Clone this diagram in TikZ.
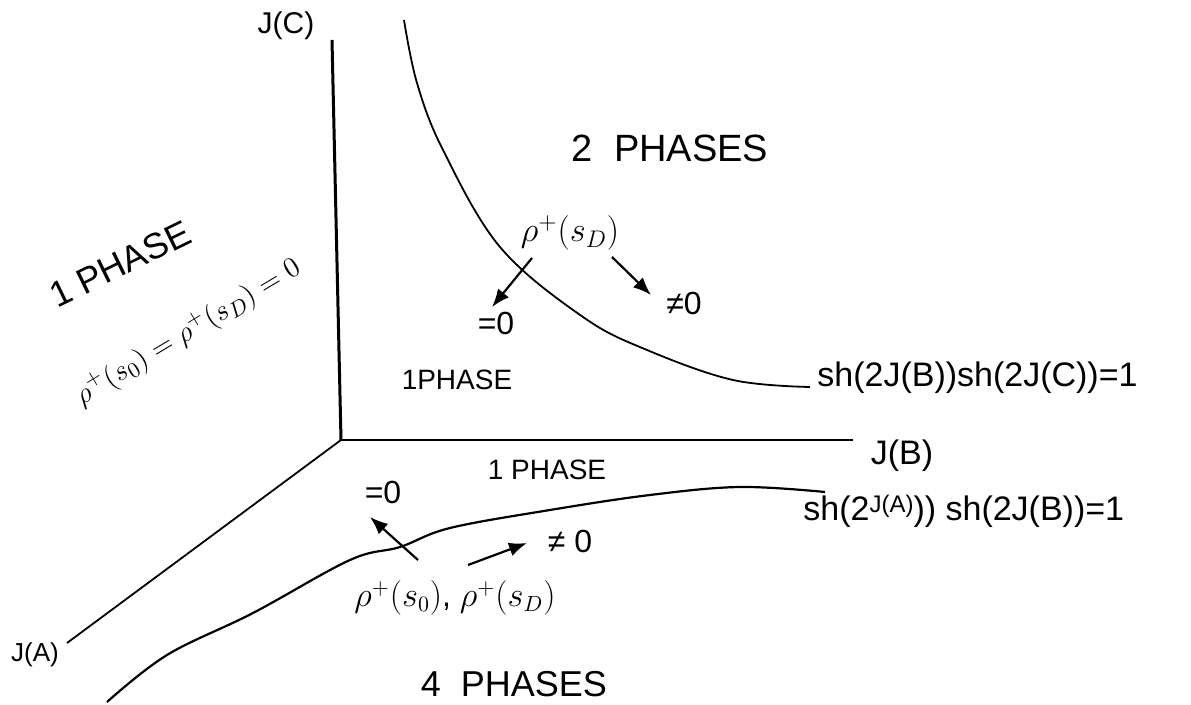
\documentclass[tikz,border=0pt]{standalone}
\usepackage{fontspec}
\setmainfont{Liberation Sans}
\usetikzlibrary{arrows.meta}
\newcommand{\fs}[1]{\fontsize{#1}{#1}\selectfont}
\begin{document}
\begin{tikzpicture}[x=0.5pt,y=-0.5pt,
  lbl/.style={inner sep=0pt},
  axis/.style={line width=1.3pt},
  bound/.style={line width=0.9pt},
  flow/.style={line width=1.1pt,-{Latex[length=9pt,width=7pt]}}]
\useasboundingbox (0,0) rectangle (1191,705);
% axes
\coordinate (O) at (341,440);
\coordinate (Ctop) at (332,40);
\coordinate (Bend) at (853,440);
\coordinate (Aend) at (67,643);
\draw[axis,line width=1.5pt] (O) -- (Ctop);
\draw[axis] (O) -- (Bend);
\draw[bound] (O) -- (Aend);
\node[lbl] (JC) at (286,26) {\fs{15}J(C)};
\node[lbl] (JB) at (902,456) {\fs{17}J(B)};
\node[lbl] (JA) at (35,655) {\fs{13}J(A)};
% boundaries
\draw[bound] plot[smooth,tension=0.6] coordinates {(404,20) (417,83) (443,150) (500,247) (583,317) (647,350) (733,380) (810,387)};
\draw[bound,line width=1.1pt] plot[smooth,tension=0.6] coordinates {(107,702) (167,655) (253,613) (350,560) (400,547) (450,528) (550,510) (650,495) (740,487) (825,492)};
\node[lbl,anchor=west] (eqBC) at (817,378) {\fs{17}sh(2J(B))sh(2J(C))=1};
\node[lbl,anchor=west] (eqAB) at (803,511) {\fs{17}sh(2\raisebox{0.45ex}{\fs{12}J(A)})) sh(2J(B))=1};
% region labels
\node[lbl] (two) at (670,148) {\fs{19}2 \ PHASES};
\node[lbl,rotate=26] (oneL) at (120,264) {\fs{18}1 PHASE};
\node[lbl,rotate=31] (rhoL) at (188,332) {\fs{15}$\rho^{+}(s_0)=\rho^{+}(s_D)=0$};
\node[lbl] (oneM) at (457,380) {\fs{14}1PHASE};
\node[lbl] (oneB) at (547,470) {\fs{14}1 PHASE};
\node[lbl] (four) at (514,684) {\fs{18}4 \ PHASES};
% upper transition
\node[lbl] (rhoD) at (570,233) {\fs{17}$\rho^{+}(s_D)$};
\node[lbl] (zeroU) at (496,323) {\fs{16}=0};
\node[lbl] (nzU) at (684,303) {\fs{16}≠0};
\coordinate (uLt) at (532,258);
\coordinate (uLh) at (492,307);
\coordinate (uRt) at (612,257);
\coordinate (uRh) at (651,295);
\draw[flow] (uLt) -- (uLh);
\draw[flow] (uRt) -- (uRh);
% lower transition
\node[lbl] (rhoB) at (455,598) {\fs{16}$\rho^{+}(s_0)$, $\rho^{+}(s_D)$};
\node[lbl] (zeroB) at (383,492) {\fs{16}=0};
\node[lbl] (nzB) at (570,541) {\fs{16}≠ 0};
\coordinate (lLt) at (418,560);
\coordinate (lLh) at (370,517);
\coordinate (lRt) at (468,565);
\coordinate (lRh) at (527,543);
\draw[flow] (lLt) -- (lLh);
\draw[flow] (lRt) -- (lRh);
\end{tikzpicture}
\end{document}
